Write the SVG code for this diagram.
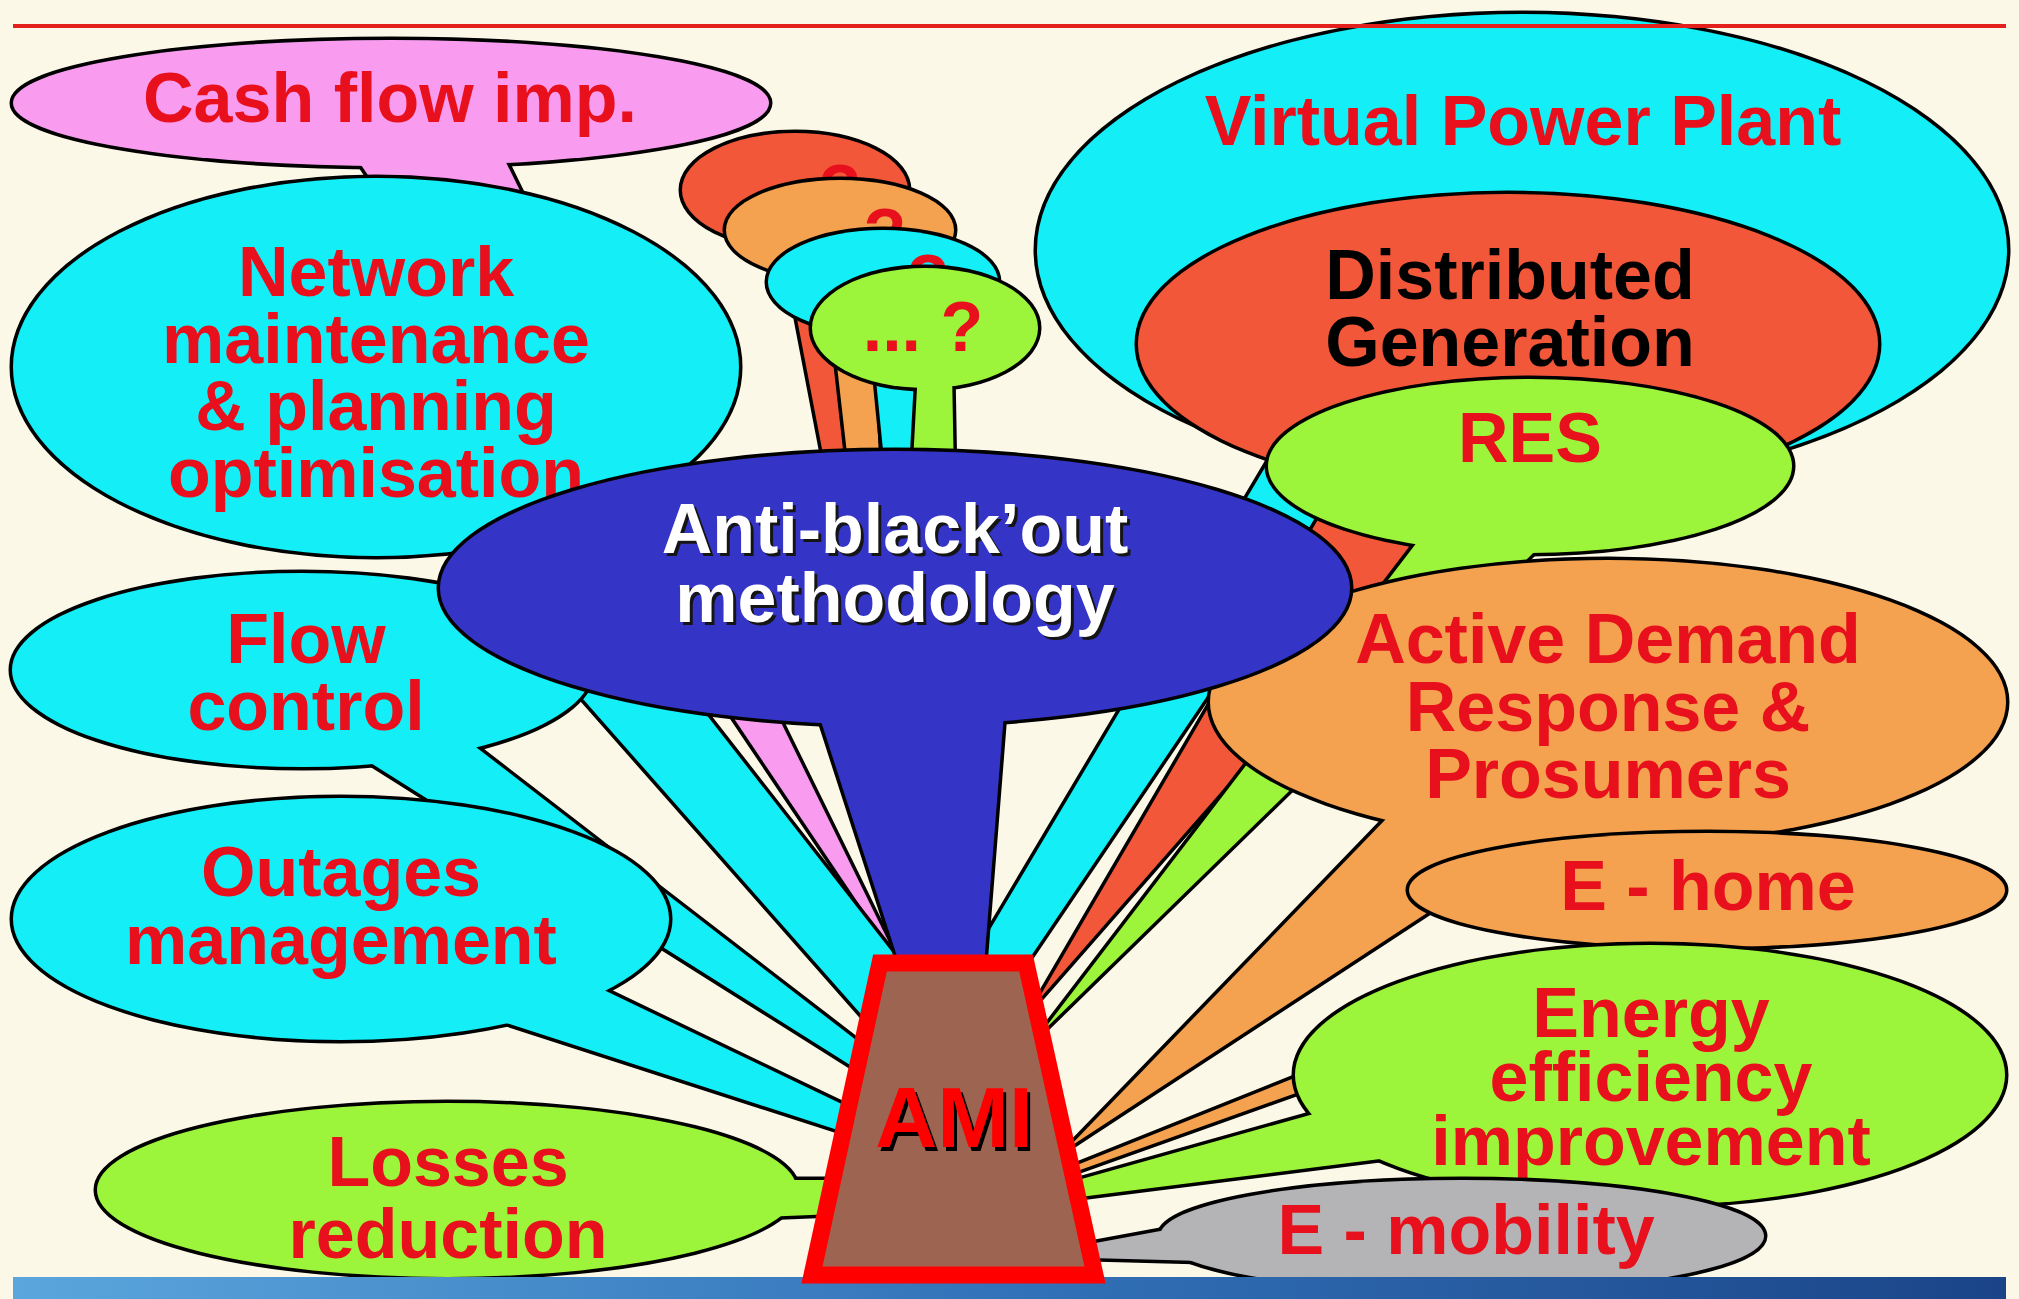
<svg xmlns="http://www.w3.org/2000/svg" width="2019" height="1299" viewBox="0 0 2019 1299">
<style>
.ol{stroke:#000;stroke-width:7;stroke-linejoin:round}
.cy{fill:#14EEF6}.gr{fill:#9CF53A}.rd{fill:#F2573A}.or{fill:#F4A150}.pk{fill:#F99CF0}.bl{fill:#3434C6}.gy{fill:#B4B4B7}
.t{font-family:"Liberation Sans",Arial,sans-serif;font-weight:bold;font-size:70px;text-anchor:middle;fill:#E8101C}
.k{fill:#000}
.w{fill:#FFFFFF}
.sh{fill:#151515}
</style>
<defs>
<linearGradient id="bar" x1="0" x2="1" y1="0" y2="0"><stop offset="0" stop-color="#5BA6DD"/><stop offset="0.5" stop-color="#3272B8"/><stop offset="1" stop-color="#1B4488"/></linearGradient>
<g id="s-vpp"><polygon points="1317,380 1421,380 1025,965 963,975"/><ellipse cx="1522" cy="250" rx="485" ry="236"/></g>
<g id="s-dg"><polygon points="1376,420 1547,420 1036,1003"/><ellipse cx="1508" cy="344" rx="370" ry="150"/></g>
<g id="s-res"><polygon points="1434,520 1567,520 1042,1032"/><ellipse cx="1530" cy="466" rx="262" ry="87"/></g>
<g id="s-ad"><polygon points="1414,790 1615,790 1068,1148"/><ellipse cx="1608" cy="702" rx="398" ry="142"/></g>
<g id="s-home"><polygon points="1640,940 1720,942 1080,1170 1077,1165"/><ellipse cx="1707" cy="890" rx="298" ry="57"/></g>
<g id="s-energy"><polygon points="1399,1090 1451,1150 1080,1197 1078,1180"/><ellipse cx="1650" cy="1075" rx="355" ry="130"/></g>
<g id="s-mob"><polygon points="1220,1220 1240,1262 1090,1258 1090,1244"/><ellipse cx="1462" cy="1236" rx="302" ry="56"/></g>
<g id="s-q1"><polygon points="778,220 830,220 860,480 828,480"/><ellipse cx="795" cy="190" rx="113" ry="57"/></g>
<g id="s-q2"><polygon points="825,260 870,260 880,480 850,480"/><ellipse cx="840" cy="230" rx="114" ry="50"/></g>
<g id="s-q3"><polygon points="868,300 915,300 925,480 886,480"/><ellipse cx="883" cy="282" rx="115" ry="52"/></g>
<g id="s-q4"><polygon points="918,370 952,370 954,480 912,480"/><ellipse cx="925" cy="328" rx="113" ry="60"/></g>
<g id="s-cash"><polygon points="351,150 500,150 900,965"/><ellipse cx="391" cy="103" rx="378" ry="63"/></g>
<g id="s-net"><polygon points="425,520 554,520 910,975 875,1030"/><ellipse cx="376" cy="367" rx="363" ry="189"/></g>
<g id="s-flow"><polygon points="420,704 869,1050 866,1075 331,738"/><ellipse cx="302" cy="670" rx="290" ry="97"/></g>
<g id="s-out"><polygon points="560,969 850,1108 850,1134 460,1008"/><ellipse cx="341" cy="919" rx="328" ry="121"/></g>
<g id="s-loss"><polygon points="760,1180 835,1180 835,1214 760,1217"/><ellipse cx="447" cy="1190" rx="350" ry="87"/></g>
<g id="s-abo"><polygon points="798,650 1009,650 983,978 904,978"/><ellipse cx="895" cy="588" rx="455" ry="137"/></g>
</defs>
<rect x="0" y="0" width="2019" height="1299" fill="#FCF8E8"/>

<g id="n-vpp"><use href="#s-vpp" class="ol cy"/><use href="#s-vpp" class="cy"/><text class="t" x="1523" y="145">Virtual Power Plant</text></g>
<g id="n-dg"><use href="#s-dg" class="ol rd"/><use href="#s-dg" class="rd"/><text class="t k" x="1510"><tspan x="1510" y="299">Distributed</tspan><tspan x="1510" y="366">Generation</tspan></text></g>
<g id="n-res"><use href="#s-res" class="ol gr"/><use href="#s-res" class="gr"/><text class="t" x="1530" y="462">RES</text></g>
<g id="n-ad"><use href="#s-ad" class="ol or"/><use href="#s-ad" class="or"/><text class="t" x="1608"><tspan x="1608" y="663">Active Demand</tspan><tspan x="1608" y="731">Response &amp;</tspan><tspan x="1608" y="798">Prosumers</tspan></text></g>
<g id="n-ehome"><use href="#s-home" class="ol or"/><use href="#s-home" class="or"/><text class="t" x="1708" y="910">E - home</text></g>
<g id="n-energy"><use href="#s-energy" class="ol gr"/><use href="#s-energy" class="gr"/><text class="t" x="1651"><tspan x="1651" y="1037">Energy</tspan><tspan x="1651" y="1101">efficiency</tspan><tspan x="1651" y="1165">improvement</tspan></text></g>
<g id="n-emob"><use href="#s-mob" class="ol gy"/><use href="#s-mob" class="gy"/><text class="t" x="1466" y="1254">E - mobility</text></g>

<g id="n-q1"><use href="#s-q1" class="ol rd"/><use href="#s-q1" class="rd"/><text class="t" x="840" y="214">?</text></g>
<g id="n-q2"><use href="#s-q2" class="ol or"/><use href="#s-q2" class="or"/><text class="t" x="885" y="258">?</text></g>
<g id="n-q3"><use href="#s-q3" class="ol cy"/><use href="#s-q3" class="cy"/><text class="t" x="928" y="304">?</text></g>
<g id="n-q4"><use href="#s-q4" class="ol gr"/><use href="#s-q4" class="gr"/><text class="t" x="923" y="351">... ?</text></g>

<g id="n-cash"><use href="#s-cash" class="ol pk"/><use href="#s-cash" class="pk"/><text class="t" x="390" y="122">Cash flow imp.</text></g>
<g id="n-network"><use href="#s-net" class="ol cy"/><use href="#s-net" class="cy"/><text class="t" x="376"><tspan x="376" y="296">Network</tspan><tspan x="376" y="363">maintenance</tspan><tspan x="376" y="430">&amp; planning</tspan><tspan x="376" y="497">optimisation</tspan></text></g>
<g id="n-flow"><use href="#s-flow" class="ol cy"/><use href="#s-flow" class="cy"/><text class="t" x="306"><tspan x="306" y="663">Flow</tspan><tspan x="306" y="730">control</tspan></text></g>
<g id="n-outages"><use href="#s-out" class="ol cy"/><use href="#s-out" class="cy"/><text class="t" x="341"><tspan x="341" y="896">Outages</tspan><tspan x="341" y="964">management</tspan></text></g>
<g id="n-losses"><use href="#s-loss" class="ol gr"/><use href="#s-loss" class="gr"/><text class="t" x="448"><tspan x="448" y="1186">Losses</tspan><tspan x="448" y="1258">reduction</tspan></text></g>

<g id="n-antiblackout"><use href="#s-abo" class="ol bl"/><use href="#s-abo" class="bl"/>
<text class="t sh" x="898"><tspan x="898" y="556">Anti-black’out</tspan><tspan x="898" y="625">methodology</tspan></text>
<text class="t w" x="895"><tspan x="895" y="553">Anti-black’out</tspan><tspan x="895" y="622">methodology</tspan></text></g>

<rect x="13" y="1277" width="1993" height="22" fill="url(#bar)"/>
<line x1="13" y1="26" x2="2006" y2="26" stroke="#E3201B" stroke-width="4"/>

<g id="n-ami">
<polygon points="880,963 1026,963 1095,1275 812,1275" fill="#9E6452" stroke="#FF0000" stroke-width="17" stroke-linejoin="miter"/>
<text x="957" y="1151" style="font-family:'Liberation Sans',Arial,sans-serif;font-weight:bold;font-size:86px;text-anchor:middle" fill="#000">AMI</text>
<text x="954" y="1147" style="font-family:'Liberation Sans',Arial,sans-serif;font-weight:bold;font-size:86px;text-anchor:middle" fill="#FF0000">AMI</text>
</g>
</svg>
